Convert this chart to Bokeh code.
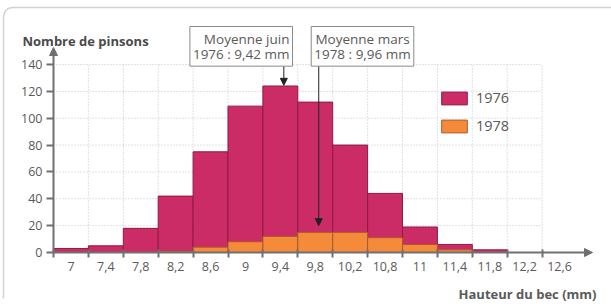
from bokeh.plotting import figure
from bokeh.models import (Range1d, FixedTicker, Arrow, NormalHead, Label,
                          Legend, LegendItem, ColumnDataSource)
from bokeh.embed import file_html
from bokeh.resources import INLINE

# ---------------- data ----------------
tick_labels = ["7", "7,4", "7,8", "8,2", "8,6", "9", "9,4", "9,8", "10,2",
               "10,8", "11", "11,4", "11,8", "12,2", "12,6"]
bin_start_mm = 7.0
bin_step_mm = 0.4
counts_1976 = [3, 5, 18, 42, 75, 109, 124, 112, 80, 44, 19, 6, 2, 0, 0]
counts_1978 = [0, 0, 0, 1, 4, 8, 12, 15, 15, 11, 6, 2, 0, 0, 0]
y_ticks = [0, 20, 40, 60, 80, 100, 120, 140]
series_names = ["1976", "1978"]
mean_texts = ["Moyenne juin\n1976 : 9,42 mm", "Moyenne mars\n1978 : 9,96 mm"]
mean_arrow_mm = [9.44, 9.84]        # where the arrows are drawn
mean_arrow_tip = [124.5, 20.0]      # arrow tip height (count)

# ---------------- styling ----------------
MAGENTA = "#cc2c66"
MAGENTA_EDGE = "#8e1a45"
ORANGE = "#f58a3a"
ORANGE_EDGE = "#a85a2a"
TXT = "#5a5a5a"
AXIS = "#707070"
FONT = "Open Sans"

W, H = 611, 303
PX_PER_BIN = 34.9
PX_PER_UNIT = 188 / 140.0
ORIGIN_PX = (53, 252)   # pixel position of the axes' origin

n = len(tick_labels)
idx = list(range(n))
edges = [i - 0.5 for i in range(n)]
grid_top = y_ticks[-1]

def px_x(px):
    return edges[0] + (px - ORIGIN_PX[0]) / PX_PER_BIN

def px_y(py):
    return (ORIGIN_PX[1] - py) / PX_PER_UNIT

def mm_to_idx(v):
    return (v - bin_start_mm) / bin_step_mm

p = figure(width=W, height=H, output_backend="svg", toolbar_location=None,
           x_range=Range1d(px_x(0), px_x(W)), y_range=Range1d(px_y(H), px_y(0)),
           min_border_left=0, min_border_right=0, min_border_top=0,
           min_border_bottom=0)
p.outline_line_color = None
p.grid.visible = False
p.background_fill_color = "white"
p.border_fill_color = "white"

# faint border of the figure card (left and top sides, rounded corner)
card_px = [(3, 298), (3, 16), (4.5, 11), (7.5, 8), (12, 7), (611, 7)]
p.line(x=[px_x(a) for a, b in card_px], y=[px_y(b) for a, b in card_px],
       line_color="#d2d2d2", line_width=1.5)

# dotted grid limited to the data area
vx = edges
p.segment(x0=vx, y0=[0] * len(vx), x1=vx, y1=[grid_top] * len(vx),
          line_color="#c4c4c4", line_dash="1 2", line_width=1)
hy = y_ticks[1:]
p.segment(x0=[edges[0]] * len(hy), y0=hy, x1=[edges[-1]] * len(hy), y1=hy,
          line_color="#c4c4c4", line_dash="1 2", line_width=1)

src = ColumnDataSource(dict(x=idx, a=counts_1976, b=counts_1978))
r1 = p.vbar(x="x", top="a", bottom=0, width=1, source=src,
            fill_color=MAGENTA, line_color=MAGENTA_EDGE, line_width=1)
r2 = p.vbar(x="x", top="b", bottom=0, width=1, source=src,
            fill_color=ORANGE, line_color=ORANGE_EDGE, line_width=1)

# axes (drawn at fixed data locations inside the canvas)
xa = p.xaxis[0]
xa.fixed_location = 0
xa.ticker = FixedTicker(ticks=idx, minor_ticks=edges)
xa.major_label_overrides = {i: t for i, t in zip(idx, tick_labels)}
xa.axis_line_color = None
xa.major_tick_line_color = None
xa.major_tick_out = 0
xa.major_tick_in = 0
xa.minor_tick_line_color = AXIS
xa.minor_tick_line_width = 2
xa.minor_tick_out = 5
xa.minor_tick_in = 3
xa.major_label_standoff = 4
xa.major_label_text_font = FONT
xa.major_label_text_font_size = "12.5px"
xa.major_label_text_color = TXT

ya = p.yaxis[0]
ya.fixed_location = edges[0]
ya.ticker = FixedTicker(ticks=y_ticks)
ya.axis_line_color = None
ya.major_tick_line_color = AXIS
ya.major_tick_line_width = 2
ya.major_tick_out = 7
ya.major_tick_in = 0
ya.minor_tick_line_color = None
ya.major_label_standoff = 4
ya.major_label_text_font = FONT
ya.major_label_text_font_size = "12.5px"
ya.major_label_text_color = TXT

# axis lines with arrow heads
p.add_layout(Arrow(x_start=edges[0], y_start=0, x_end=px_x(592), y_end=0,
                   line_color=AXIS, line_width=2,
                   end=NormalHead(size=8, fill_color=AXIS, line_color=AXIS)))
p.add_layout(Arrow(x_start=edges[0], y_start=0, x_end=edges[0], y_end=px_y(47),
                   line_color=AXIS, line_width=2,
                   end=NormalHead(size=8, fill_color=AXIS, line_color=AXIS)))

# mean arrows
for mx, tip, top in zip(mean_arrow_mm, mean_arrow_tip, [px_y(63), px_y(65)]):
    xi = mm_to_idx(mx)
    p.add_layout(Arrow(x_start=xi, y_start=top, x_end=xi, y_end=tip,
                       line_color="#222222", line_width=1,
                       end=NormalHead(size=7, fill_color="#222222",
                                      line_color="#222222")))

# mean boxes
box_style = dict(text_baseline="top", text_font=FONT, text_font_size="13.5px",
                 text_color=TXT, text_line_height=0.87,
                 border_line_color="#8a8a8a", border_line_width=1,
                 background_fill_color="white", padding=3)
p.add_layout(Label(x=px_x(292), y=px_y(26), text=mean_texts[0],
                   text_align="right", **box_style))
p.add_layout(Label(x=px_x(362), y=px_y(26), text=mean_texts[1],
                   text_align="center", **box_style))

# axis titles
p.add_layout(Label(x=px_x(22), y=px_y(40), text="Nombre de pinsons",
                   text_font=FONT, text_font_size="13px", text_font_style="bold",
                   text_color="#4a4a4a", text_baseline="alphabetic"))
p.add_layout(Label(x=px_x(596), y=px_y(293), text="Hauteur du bec (mm)",
                   text_align="right", text_font=FONT, text_font_size="13px",
                   text_font_style="bold", text_color="#5a5a5a",
                   text_baseline="alphabetic"))

# legend (location measured from the bottom-left of the canvas)
legend = Legend(items=[LegendItem(label=series_names[0], renderers=[r1]),
                       LegendItem(label=series_names[1], renderers=[r2])],
                location=(438, H - 135), margin=0, padding=0,
                glyph_width=32, glyph_height=16, label_height=16,
                label_standoff=6, spacing=9,
                label_text_font=FONT, label_text_font_size="14.5px",
                label_text_color=TXT,
                background_fill_alpha=0, border_line_color=None)
p.add_layout(legend)

open("out.html", "w").write(file_html(p, INLINE))
